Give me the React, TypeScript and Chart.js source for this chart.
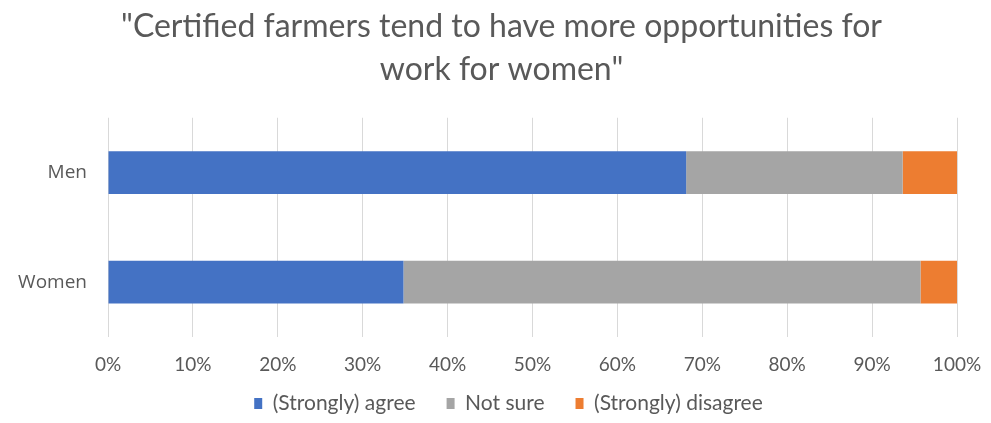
import React, { useEffect, useRef } from "react";
import { Chart, registerables } from "chart.js";

Chart.register(...registerables);

const categories = ["Men", "Women"];
const agree = [68.1, 34.8];
const notSure = [25.5, 60.9];
const disagree = [6.4, 4.3];
const seriesNames = ["(Strongly) agree", "Not sure", "(Strongly) disagree"];
const titleLines = ["\"Certified farmers tend to have more opportunities for", "work for women\""];

const FONT = "Lato, 'Open Sans', sans-serif";
const TEXT = "#595959";

// shift title and legend horizontally to match the reference's centering
const shiftPlugin = {
  id: "shiftBlocks",
  afterLayout(chart: any) {
    const t = chart.titleBlock;
    if (t) { t.left += 23; t.right += 23; }
    const l = chart.legend;
    if (l) { l.left += 30; l.right += 30; }
  },
};

export default function App() {
  const ref = useRef<HTMLCanvasElement | null>(null);
  useEffect(() => {
    document.body.style.margin = "0";
    const ctx = ref.current!;
    const chart = new Chart(ctx, {
      type: "bar",
      data: {
        labels: categories,
        datasets: [
          { label: seriesNames[0], data: agree, backgroundColor: "#4472C4" },
          { label: seriesNames[1], data: notSure, backgroundColor: "#A5A5A5" },
          { label: seriesNames[2], data: disagree, backgroundColor: "#ED7D31" },
        ],
      },
      plugins: [shiftPlugin],
      options: {
        indexAxis: "y",
        responsive: false,
        animation: false,
        datasets: { bar: { categoryPercentage: 1, barPercentage: 0.39 } },
        layout: { padding: { top: 5, right: 34, bottom: -1, left: 0 } },
        scales: {
          x: {
            stacked: true,
            min: 0,
            max: 100,
            ticks: {
              stepSize: 10,
              callback: (v: any) => v + "%",
              color: TEXT,
              font: { family: FONT, size: 19 },
              mirror: true,
              padding: -39.4,
            },
            grid: { color: "#D9D9D9", drawTicks: false },
            border: { display: false },
            afterFit: (s: any) => {
              s.height = 25;
              s.paddingLeft = 0;
              s.paddingRight = 0;
            },
          },
          y: {
            stacked: true,
            ticks: { color: TEXT, font: { family: "'Open Sans', sans-serif", size: 19 }, padding: 21 },
            grid: { display: false, drawTicks: false },
            border: { display: false },
            afterFit: (s: any) => { s.width = 108; },
          },
        },
        plugins: {
          title: {
            display: true,
            text: titleLines,
            color: TEXT,
            font: { family: FONT, size: 32, weight: "normal", lineHeight: 1.34 },
            padding: { top: 0, bottom: 27 },
          },
          legend: {
            position: "bottom",
            labels: {
              boxWidth: 8,
              boxHeight: 11,
              padding: 31,
              color: TEXT,
              font: { family: FONT, size: 21 },
            },
          },
          tooltip: { enabled: false },
        },
      },
    });
    return () => chart.destroy();
  }, []);
  return (
    <div style={{ width: 991, height: 423 }}>
      <canvas ref={ref} width={991} height={423} />
    </div>
  );
}
